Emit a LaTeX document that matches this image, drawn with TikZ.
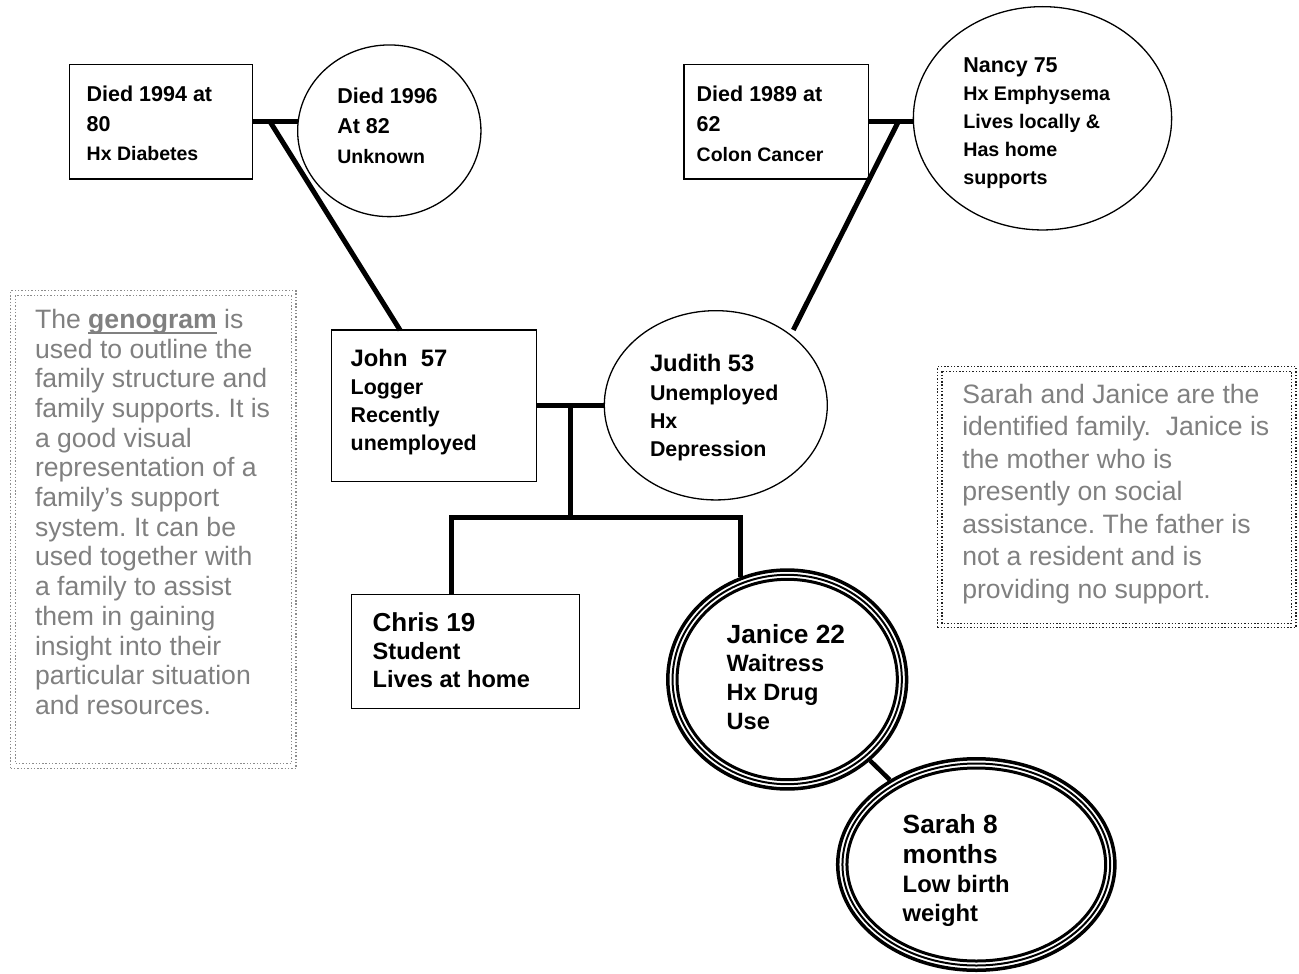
\documentclass[tikz,border=0pt]{standalone}
\usepackage{fontspec}
\setmainfont{Liberation Sans}
\usetikzlibrary{shapes.geometric}
\definecolor{notegray}{HTML}{808080}
\definecolor{dotgray}{HTML}{8C8C8C}
\definecolor{dotdark}{HTML}{222222}
\newcommand\fs[2]{\fontsize{#1}{#2}\selectfont}
\newcommand\ulbox[1]{\setbox0\hbox{#1}\rlap{\rule[-5.5pt]{\wd0}{2pt}}\box0\relax}
\frenchspacing
\begin{document}
\begin{tikzpicture}[x=1pt,y=-1pt,
  person/.style={draw, line width=1.3pt, inner sep=0pt, outer sep=0pt},
  box/.style={person, rectangle},
  oval/.style={person, ellipse},
  tripleoval/.style={ellipse, inner sep=0pt, outer sep=0pt},
  txt/.style={anchor=base west, inner sep=0pt, outer sep=0pt, font=\bfseries},
  rel/.style={line width=5pt},
  note/.style={rectangle, inner sep=0pt, outer sep=0pt, line width=1.4pt, dash pattern=on 1.4pt off 1.9pt},
  notetxt/.style={anchor=base west, inner sep=0pt, outer sep=0pt, text=notegray}
]
\useasboundingbox[fill=white] (0,0) rectangle (1299,974);

% note boxes
\node[note, draw=dotgray, minimum width=285.3pt, minimum height=477.6pt] (note1) at (153.35,529.5) {};
\draw[note, draw=dotgray] ([shift={(4.7,4.7)}]note1.north west) rectangle ([shift={(-4.7,-4.7)}]note1.south east);
\node[note, draw=dotdark, minimum width=358.7pt, minimum height=261pt] (note2) at (1116.65,497.2) {};
\draw[note, draw=dotdark] ([shift={(4.5,4.5)}]note2.north west) rectangle ([shift={(-4.5,-4.5)}]note2.south east);

% persons
\node[box, minimum width=183.4pt, minimum height=114.7pt] (gf1) at (161,121.65) {};
\node[oval, minimum width=183.3pt, minimum height=171.7pt] (gm1) at (389.3,130.8) {};
\node[box, minimum width=184.3pt, minimum height=114.7pt] (gf2) at (776.2,121.65) {};
\node[oval, minimum width=258.3pt, minimum height=223.3pt] (nancy) at (1042.5,118.3) {};
\node[box, minimum width=205pt, minimum height=151.7pt] (john) at (434.2,405.85) {};
\node[oval, minimum width=223pt, minimum height=189.3pt] (judith) at (715.8,405.3) {};
\node[box, minimum width=227.6pt, minimum height=114pt] (chris) at (465.5,651.3) {};
\node[tripleoval, minimum width=242.3pt, minimum height=222.4pt] (janice) at (787.2,679.5) {};
\node[tripleoval, minimum width=280.7pt, minimum height=215pt] (sarah) at (976.3,864.5) {};

% triple borders
\draw[line width=3.5pt] (janice.center) ellipse [x radius=119.4pt, y radius=109.45pt];
\draw[line width=2pt] (janice.center) ellipse [x radius=114.65pt, y radius=104.7pt];
\draw[line width=3pt] (janice.center) ellipse [x radius=110.15pt, y radius=100.2pt];
\draw[line width=3.5pt] (sarah.center) ellipse [x radius=138.6pt, y radius=105.75pt];
\draw[line width=2pt] (sarah.center) ellipse [x radius=133.85pt, y radius=101pt];
\draw[line width=3pt] (sarah.center) ellipse [x radius=129.35pt, y radius=96.5pt];

% relationship lines
\coordinate (m1) at (270,121.65);
\coordinate (m2) at (898.3,121.65);
\coordinate (jd) at (793.3,330);
\coordinate (m3) at (570.7,405.85);
\coordinate (s0) at (570.7,517.3);
\coordinate (s1) at (451.7,517.3);
\coordinate (s2) at (740.7,517.3);

\draw[rel] (gf1.east) -- (gf1.east -| gm1.west);
\draw[rel] (m1) -- ([xshift=68.3pt]john.north west);
\draw[rel] (gf2.east) -- (gf2.east -| nancy.west);
\draw[rel] (m2) -- (jd);
\draw[rel] (john.east) -- (john.east -| judith.west);
\draw[rel] (m3) -- (s0);
\draw[rel] (s1 |- chris.north) -- (s1) -- (s2) -- (s2 |- janice.114.4);
\draw[line width=4.5pt] (janice) -- (sarah);

% person texts
\node[txt] (t1) at (86.7,101.3) {\vtop{\fs{21.5}{30}\hbox{Died 1994 at}\hbox{80}\fs{19.5}{29.5}\hbox{Hx Diabetes}}};
\node[txt] (t2) at (337.3,103.3) {\vtop{\fs{21.5}{30.5}\hbox{Died 1996}\hbox{At 82}\fs{19.5}{29.5}\hbox{Unknown}}};
\node[txt] (t3) at (696.7,101.7) {\vtop{\fs{21.5}{30}\hbox{Died 1989 at}\hbox{62}\fs{19.5}{29.5}\hbox{Colon Cancer}}};
\node[txt] (t4) at (963.3,72.7) {\vtop{\fs{21.5}{28}\hbox{Nancy 75}\fs{19.7}{28}\hbox{Hx Emphysema}\hbox{Lives locally \&}\hbox{Has home}\hbox{supports}}};
\node[txt] (t5) at (350.7,366) {\vtop{\fs{23.8}{28.2}\hbox{John\ \ 57}\fs{21.4}{28.2}\hbox{Logger}\hbox{Recently}\hbox{unemployed}}};
\node[txt] (t6) at (650,371.7) {\vtop{\fs{23.8}{28.3}\hbox{Judith 53}\fs{21.4}{28.3}\hbox{Unemployed}\hbox{Hx}\hbox{Depression}}};
\node[txt] (t7) at (372.7,631) {\vtop{\fs{26}{28.3}\hbox{Chris 19}\fs{23.6}{28.3}\hbox{Student}\hbox{Lives at home}}};
\node[txt] (t8) at (726.7,643.3) {\vtop{\fs{26.3}{28.6}\hbox{Janice 22}\fs{23.6}{28.6}\hbox{Waitress}\hbox{Hx Drug}\hbox{Use}}};
\node[txt] (t9) at (902.7,833.3) {\vtop{\fs{26.3}{30}\hbox{Sarah 8}\hbox{months}\fs{23.8}{29}\hbox{Low birth}\hbox{weight}}};

% note texts
\node[notetxt] (n1t) at (35,328.3) {\vtop{\fs{26.6}{29.7}%
\hbox{The \ulbox{\bfseries genogram} is}%
\hbox{used to outline the}%
\hbox{family structure and}%
\hbox{family supports. It is}%
\hbox{a good visual}%
\hbox{representation of a}%
\hbox{family’s support}%
\hbox{system. It can be}%
\hbox{used together with}%
\hbox{a family to assist}%
\hbox{them in gaining}%
\hbox{insight into their}%
\hbox{particular situation}%
\hbox{and resources.}}};
\node[notetxt] (n2t) at (962.3,403.3) {\vtop{\fs{26.6}{32.5}%
\hbox{Sarah and Janice are the}%
\hbox{identified family.\ \ Janice is}%
\hbox{the mother who is}%
\hbox{presently on social}%
\hbox{assistance. The father is}%
\hbox{not a resident and is}%
\hbox{providing no support.}}};
\end{tikzpicture}
\end{document}
